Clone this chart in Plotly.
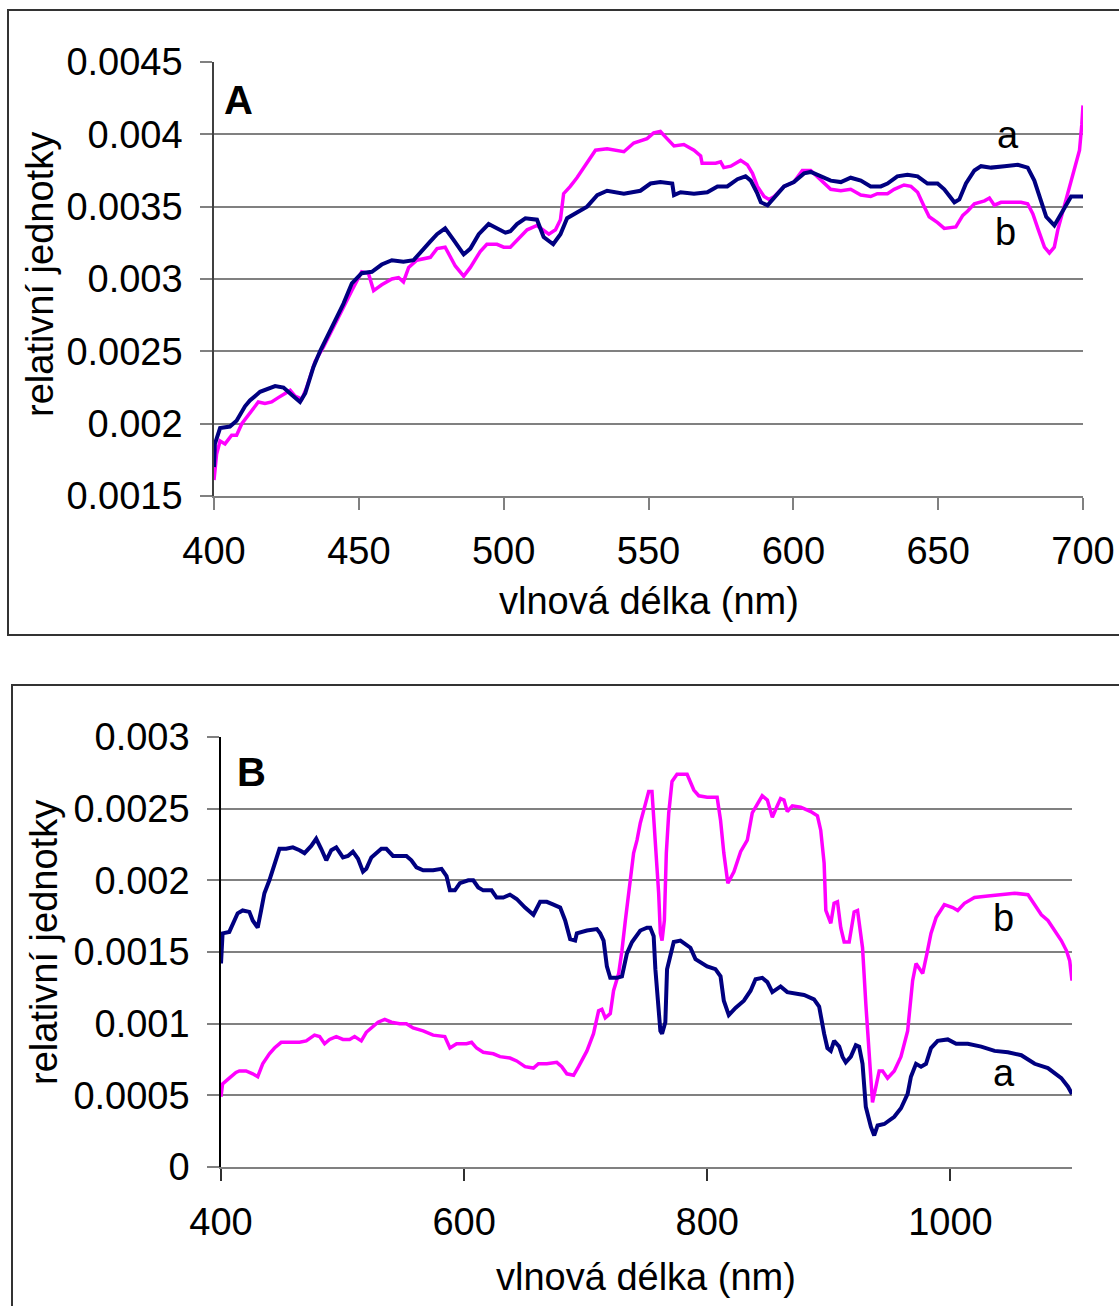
import plotly.graph_objects as go

# ---------------- Panel A: 400-700 nm ----------------
A_a_nm = [
    400.0, 400.3, 402.1, 405.5, 407.8, 410.7, 412.4, 415.9, 421.1, 424.0,
    426.8, 429.7, 431.5, 434.3, 436.6, 439.5, 442.4, 444.7, 447.6, 451.0,
    454.5, 457.9, 461.4, 465.4, 468.9, 471.8, 474.7, 477.0, 479.8, 482.7,
    486.2, 488.5, 491.4, 494.8, 497.7, 500.6, 502.3, 504.6, 507.5, 511.5,
    513.8, 517.1, 519.6, 521.9, 525.3, 528.8, 532.3, 535.7, 541.5, 547.2,
    550.7, 554.1, 558.2, 558.8, 561.1, 565.7, 570.3, 573.8, 577.2, 580.7,
    583.5, 585.3, 587.6, 588.8, 591.1, 593.4, 596.8, 600.2, 603.7, 606.0,
    609.5, 612.9, 616.4, 619.8, 623.3, 626.7, 630.2, 632.5, 635.9, 639.4,
    642.9, 646.3, 649.8, 652.1, 655.6, 657.3, 659.6, 662.5, 664.8, 668.3,
    672.9, 677.5, 680.9, 683.2, 685.5, 687.3, 690.1, 691.9, 693.6, 695.9,
    700.0,
]
A_a_val = [
    0.00170, 0.00186, 0.00197, 0.00198, 0.00202, 0.00212, 0.00216, 0.00222, 0.00226, 0.00225,
    0.00220, 0.00215, 0.00221, 0.00239, 0.00250, 0.00262, 0.00275, 0.00283, 0.00297, 0.00304,
    0.00305, 0.00310, 0.00313, 0.00312, 0.00313, 0.00320, 0.00326, 0.00331, 0.00335, 0.00327,
    0.00317, 0.00321, 0.00331, 0.00338, 0.00335, 0.00332, 0.00333, 0.00338, 0.00342, 0.00341,
    0.00329, 0.00324, 0.00331, 0.00342, 0.00346, 0.00350, 0.00358, 0.00361, 0.00359, 0.00361,
    0.00366, 0.00367, 0.00366, 0.00358, 0.00360, 0.00359, 0.00360, 0.00364, 0.00364, 0.00369,
    0.00371, 0.00368, 0.00359, 0.00353, 0.00351, 0.00356, 0.00364, 0.00367, 0.00373, 0.00374,
    0.00371, 0.00368, 0.00367, 0.00370, 0.00368, 0.00364, 0.00364, 0.00366, 0.00371, 0.00372,
    0.00371, 0.00366, 0.00366, 0.00362, 0.00353, 0.00355, 0.00366, 0.00375, 0.00378, 0.00377,
    0.00378, 0.00379, 0.00377, 0.00368, 0.00354, 0.00343, 0.00337, 0.00343, 0.00350, 0.00357,
    0.00357,
]

A_b_nm = [
    400.0, 400.9, 402.1, 403.8, 406.1, 407.8, 409.6, 412.4, 415.3, 417.6,
    419.9, 422.2, 424.5, 426.3, 428.0, 430.3, 432.0, 434.9, 437.8, 440.7,
    444.1, 447.6, 451.0, 453.3, 455.1, 457.9, 461.4, 463.7, 465.4, 467.2,
    470.0, 474.7, 477.0, 479.8, 483.3, 486.2, 488.5, 491.9, 494.2, 497.7,
    500.0, 502.3, 504.6, 508.1, 511.5, 513.8, 515.6, 517.9, 519.6, 520.7,
    523.0, 525.3, 528.8, 531.7, 535.7, 539.2, 541.5, 544.9, 549.5, 551.8,
    554.1, 556.4, 558.8, 562.2, 565.7, 568.0, 568.5, 573.2, 574.9, 576.0,
    578.4, 581.8, 584.1, 585.9, 587.6, 589.9, 591.6, 593.4, 596.8, 600.2,
    603.1, 606.0, 609.5, 612.9, 616.4, 619.8, 623.3, 626.7, 629.0, 632.5,
    634.8, 638.2, 640.6, 642.9, 645.2, 646.9, 649.8, 652.1, 656.1, 658.5,
    660.2, 662.5, 666.0, 667.7, 669.4, 671.7, 675.2, 678.6, 680.9, 682.7,
    684.4, 686.7, 688.4, 690.1, 691.3, 692.5, 694.8, 697.1, 698.8, 699.6,
    700.0,
]
A_b_val = [
    0.00161, 0.00179, 0.00188, 0.00186, 0.00192, 0.00192, 0.00200, 0.00207, 0.00215, 0.00214,
    0.00215, 0.00218, 0.00221, 0.00223, 0.00219, 0.00217, 0.00225, 0.00243, 0.00253, 0.00265,
    0.00278, 0.00292, 0.00305, 0.00304, 0.00292, 0.00296, 0.00300, 0.00301, 0.00298, 0.00308,
    0.00313, 0.00315, 0.00321, 0.00322, 0.00309, 0.00302, 0.00308, 0.00319, 0.00324, 0.00324,
    0.00322, 0.00322, 0.00327, 0.00334, 0.00337, 0.00334, 0.00331, 0.00334, 0.00341, 0.00359,
    0.00364, 0.00370, 0.00380, 0.00389, 0.00390, 0.00389, 0.00388, 0.00394, 0.00397, 0.00401,
    0.00402, 0.00397, 0.00392, 0.00393, 0.00389, 0.00385, 0.00380, 0.00380, 0.00381, 0.00377,
    0.00378, 0.00382, 0.00379, 0.00373, 0.00364, 0.00357, 0.00355, 0.00357, 0.00364, 0.00367,
    0.00375, 0.00375, 0.00368, 0.00362, 0.00361, 0.00362, 0.00358, 0.00357, 0.00359, 0.00359,
    0.00362, 0.00365, 0.00364, 0.00360, 0.00350, 0.00343, 0.00339, 0.00335, 0.00336, 0.00344,
    0.00347, 0.00352, 0.00354, 0.00356, 0.00351, 0.00353, 0.00353, 0.00353, 0.00352, 0.00345,
    0.00335, 0.00322, 0.00318, 0.00322, 0.00334, 0.00343, 0.00359, 0.00377, 0.00389, 0.00407,
    0.00420,
]

A_ytick_vals = [0.0015, 0.002, 0.0025, 0.003, 0.0035, 0.004, 0.0045]
A_ytick_text = ["0.0015", "0.002", "0.0025", "0.003", "0.0035", "0.004", "0.0045"]
A_xtick_vals = [400, 450, 500, 550, 600, 650, 700]

# ---------------- Panel B: 400-1100 nm ----------------
B_a_nm = [
    400.0, 401.3, 406.8, 409.6, 413.7, 417.8, 423.3, 426.1, 430.2, 433.0,
    435.7, 439.8, 444.0, 448.1, 453.6, 459.1, 464.6, 468.7, 474.2, 478.3,
    482.4, 486.6, 490.7, 494.8, 500.3, 504.4, 508.5, 512.7, 516.8, 519.5,
    523.7, 527.8, 531.9, 536.0, 541.5, 547.0, 552.5, 556.6, 560.8, 566.3,
    574.5, 581.4, 585.5, 588.3, 592.4, 596.5, 603.4, 607.5, 611.6, 615.7,
    622.6, 626.7, 632.2, 637.7, 643.2, 650.1, 657.0, 662.5, 668.0, 673.5,
    679.0, 683.1, 687.2, 691.3, 692.7, 701.0, 709.2, 711.9, 714.7, 717.4,
    720.2, 725.7, 729.8, 733.9, 738.1, 744.9, 750.4, 753.1, 755.9, 757.3,
    760.0, 761.4, 762.8, 765.5, 766.9, 769.6, 772.4, 777.9, 786.1, 790.3,
    794.4, 799.9, 806.7, 810.9, 813.6, 817.7, 823.2, 830.1, 835.6, 839.7,
    845.2, 849.4, 853.5, 860.3, 865.8, 871.3, 879.6, 887.8, 892.0, 896.1,
    898.8, 901.6, 904.3, 908.5, 911.2, 913.9, 918.1, 922.2, 924.9, 927.7,
    930.4, 934.6, 937.3, 940.1, 945.6, 953.8, 959.3, 964.8, 967.5, 971.7,
    975.8, 979.9, 984.0, 989.5, 997.8, 1004.7, 1014.3, 1025.3, 1036.3, 1047.3,
    1058.3, 1069.3, 1080.2, 1091.2, 1096.7, 1100.0,
]
B_a_val = [
    0.00142, 0.00163, 0.00164, 0.00169, 0.00177, 0.00179, 0.00178, 0.00172, 0.00167, 0.00179,
    0.00191, 0.00200, 0.00212, 0.00222, 0.00222, 0.00223, 0.00221, 0.00219, 0.00224, 0.00229,
    0.00222, 0.00214, 0.00221, 0.00223, 0.00216, 0.00217, 0.00220, 0.00215, 0.00206, 0.00208,
    0.00216, 0.00219, 0.00222, 0.00222, 0.00217, 0.00217, 0.00217, 0.00214, 0.00209, 0.00207,
    0.00207, 0.00208, 0.00203, 0.00193, 0.00193, 0.00198, 0.00200, 0.00200, 0.00195, 0.00193,
    0.00193, 0.00188, 0.00188, 0.00190, 0.00187, 0.00181, 0.00176, 0.00185, 0.00185, 0.00183,
    0.00181, 0.00172, 0.00159, 0.00158, 0.00163, 0.00165, 0.00166, 0.00163, 0.00158, 0.00140,
    0.00132, 0.00132, 0.00133, 0.00149, 0.00157, 0.00165, 0.00167, 0.00167, 0.00161, 0.00138,
    0.00114, 0.00095, 0.00093, 0.00101, 0.00138, 0.00149, 0.00157, 0.00158, 0.00153, 0.00145,
    0.00143, 0.00140, 0.00138, 0.00133, 0.00116, 0.00106, 0.00111, 0.00116, 0.00123, 0.00131,
    0.00132, 0.00129, 0.00122, 0.00126, 0.00122, 0.00121, 0.00120, 0.00117, 0.00112, 0.00093,
    0.00083, 0.00081, 0.00088, 0.00084, 0.00077, 0.00073, 0.00077, 0.00085, 0.00084, 0.00072,
    0.00042, 0.00028, 0.00022, 0.00029, 0.00030, 0.00035, 0.00041, 0.00051, 0.00063, 0.00072,
    0.00070, 0.00072, 0.00083, 0.00088, 0.00089, 0.00086, 0.00086, 0.00084, 0.00081, 0.00080,
    0.00078, 0.00072, 0.00069, 0.00062, 0.00056, 0.00051,
]

B_b_nm = [
    400.0, 401.3, 406.8, 412.3, 415.1, 420.6, 426.1, 430.2, 434.3, 439.8,
    444.0, 449.5, 456.3, 464.6, 470.1, 476.9, 481.1, 485.2, 489.3, 494.8,
    500.3, 505.8, 509.9, 515.4, 519.5, 523.7, 529.2, 534.7, 540.2, 547.0,
    552.5, 558.0, 566.3, 574.5, 584.1, 588.3, 593.8, 602.0, 606.1, 610.2,
    615.7, 624.0, 629.5, 637.7, 643.2, 650.1, 657.0, 661.1, 668.0, 676.2,
    680.3, 684.5, 690.0, 694.1, 701.0, 706.4, 710.6, 713.3, 716.1, 720.2,
    722.9, 727.1, 729.8, 732.6, 735.3, 739.4, 742.2, 744.9, 749.0, 751.8,
    754.5, 757.3, 760.0, 761.4, 762.8, 764.7, 766.3, 768.3, 771.0, 775.1,
    783.4, 788.9, 793.0, 799.9, 808.1, 810.9, 813.6, 816.9, 821.9, 827.4,
    832.9, 837.0, 841.1, 845.2, 849.4, 853.5, 857.6, 860.3, 863.1, 865.8,
    870.0, 876.8, 885.1, 890.6, 893.3, 896.1, 897.5, 901.6, 904.3, 907.1,
    909.8, 912.6, 916.7, 920.8, 923.6, 927.7, 930.4, 933.2, 935.9, 938.7,
    941.4, 944.2, 948.3, 953.8, 959.3, 964.8, 968.9, 971.7, 977.2, 980.7,
    984.0, 988.2, 995.0, 1001.9, 1006.0, 1011.5, 1019.8, 1030.8, 1041.8, 1052.8,
    1063.8, 1069.3, 1074.8, 1080.2, 1085.7, 1091.2, 1095.4, 1098.1, 1100.0,
]
B_b_val = [
    0.00049, 0.00058, 0.00062, 0.00066, 0.00067, 0.00067, 0.00065, 0.00063, 0.00072, 0.00079,
    0.00083, 0.00087, 0.00087, 0.00087, 0.00088, 0.00092, 0.00091, 0.00086, 0.00089, 0.00091,
    0.00089, 0.00089, 0.00091, 0.00088, 0.00094, 0.00097, 0.00101, 0.00103, 0.00101, 0.00100,
    0.00100, 0.00097, 0.00095, 0.00092, 0.00091, 0.00083, 0.00086, 0.00086, 0.00087, 0.00083,
    0.00080, 0.00079, 0.00077, 0.00076, 0.00074, 0.00070, 0.00069, 0.00072, 0.00072, 0.00073,
    0.00070, 0.00065, 0.00064, 0.00070, 0.00081, 0.00093, 0.00109, 0.00110, 0.00104, 0.00107,
    0.00123, 0.00135, 0.00151, 0.00172, 0.00191, 0.00219, 0.00228, 0.00240, 0.00253, 0.00262,
    0.00262, 0.00230, 0.00191, 0.00163, 0.00158, 0.00172, 0.00219, 0.00247, 0.00269, 0.00274,
    0.00274, 0.00263, 0.00259, 0.00258, 0.00258, 0.00242, 0.00219, 0.00198, 0.00206, 0.00220,
    0.00228, 0.00247, 0.00253, 0.00259, 0.00256, 0.00244, 0.00252, 0.00257, 0.00256, 0.00248,
    0.00252, 0.00251, 0.00248, 0.00245, 0.00235, 0.00212, 0.00179, 0.00170, 0.00184, 0.00185,
    0.00167, 0.00157, 0.00157, 0.00178, 0.00179, 0.00153, 0.00114, 0.00079, 0.00045, 0.00056,
    0.00067, 0.00067, 0.00062, 0.00067, 0.00077, 0.00095, 0.00130, 0.00142, 0.00135, 0.00149,
    0.00163, 0.00174, 0.00183, 0.00181, 0.00179, 0.00184, 0.00188, 0.00189, 0.00190, 0.00191,
    0.00190, 0.00183, 0.00176, 0.00172, 0.00165, 0.00158, 0.00151, 0.00144, 0.00130,
]

B_ytick_vals = [0, 0.0005, 0.001, 0.0015, 0.002, 0.0025, 0.003]
B_ytick_text = ["0", "0.0005", "0.001", "0.0015", "0.002", "0.0025", "0.003"]
B_xtick_vals = [400, 600, 800, 1000]

# ---------------- styling ----------------
W, H = 1119, 1306
FONT = "Liberation Sans, Arial, sans-serif"
NAVY = "#000080"
MAGENTA = "#FF00FF"
GRID = "#808080"
TICK_SIZE = 38


def px(x):
    return x / W


def py(y):
    return 1 - y / H


fig = go.Figure()

fig.add_trace(go.Scatter(x=A_b_nm, y=A_b_val, mode="lines",
                         line=dict(color=MAGENTA, width=3.5), xaxis="x", yaxis="y"))
fig.add_trace(go.Scatter(x=A_a_nm, y=A_a_val, mode="lines",
                         line=dict(color=NAVY, width=4), xaxis="x", yaxis="y"))
fig.add_trace(go.Scatter(x=B_b_nm, y=B_b_val, mode="lines",
                         line=dict(color=MAGENTA, width=3.5), xaxis="x2", yaxis="y2"))
fig.add_trace(go.Scatter(x=B_a_nm, y=B_a_val, mode="lines",
                         line=dict(color=NAVY, width=4), xaxis="x2", yaxis="y2"))

tickfont = dict(family=FONT, size=TICK_SIZE, color="black")

common_x = dict(showgrid=False, zeroline=False, showline=True, linewidth=1.5,
                ticks="outside", ticklen=12, tickwidth=1.5, tickfont=tickfont,
                ticklabelstandoff=9, automargin=False)
common_y = dict(showgrid=True, gridcolor=GRID, gridwidth=1.5, zeroline=False,
                showline=True, linewidth=1.5, ticks="outside", ticklen=12,
                tickwidth=1.5, tickcolor=GRID, tickfont=tickfont,
                ticklabelstandoff=10, automargin=False)

fig.update_layout(
    width=W, height=H,
    margin=dict(l=0, r=0, t=0, b=0, pad=0, autoexpand=False),
    paper_bgcolor="white", plot_bgcolor="white",
    showlegend=False,
    xaxis=dict(domain=[px(214), px(1083)], range=[400, 700], tickvals=A_xtick_vals,
               linecolor=GRID, tickcolor=GRID, anchor="y", **common_x),
    yaxis=dict(domain=[py(496), py(62)], range=[0.0015 - 1e-9, 0.0045 + 1e-9],
               tickvals=A_ytick_vals, ticktext=A_ytick_text, linecolor="#404040",
               anchor="x", **common_y),
    xaxis2=dict(domain=[px(221), px(1072)], range=[400, 1100], tickvals=B_xtick_vals,
                linecolor=GRID, tickcolor="#303030", anchor="y2", **common_x),
    yaxis2=dict(domain=[py(1167), py(737)], range=[0 - 1e-9, 0.003 + 1e-9],
                tickvals=B_ytick_vals, ticktext=B_ytick_text, linecolor="black",
                anchor="x2", **common_y),
)

# frames around each panel
fig.add_shape(type="rect", xref="paper", yref="paper",
              x0=px(8), x1=px(1135), y0=py(635), y1=py(10),
              line=dict(color="#333333", width=2), fillcolor="rgba(0,0,0,0)", layer="below")
fig.add_shape(type="rect", xref="paper", yref="paper",
              x0=px(12), x1=px(1135), y0=py(1320), y1=py(685),
              line=dict(color="#333333", width=2), fillcolor="rgba(0,0,0,0)", layer="below")

label_font = dict(family=FONT, size=TICK_SIZE, color="black")
panel_font = dict(family=FONT, size=40, color="black", weight="bold")

annotations = [
    # axis titles
    dict(text="vlnová délka (nm)", x=px(649), y=py(601), xref="paper", yref="paper",
         showarrow=False, font=label_font, xanchor="center", yanchor="middle"),
    dict(text="relativní jednotky", x=px(40), y=py(275), xref="paper", yref="paper",
         showarrow=False, font=label_font, textangle=-90, xanchor="center", yanchor="middle"),
    dict(text="vlnová délka (nm)", x=px(646), y=py(1277), xref="paper", yref="paper",
         showarrow=False, font=label_font, xanchor="center", yanchor="middle"),
    dict(text="relativní jednotky", x=px(44), y=py(943), xref="paper", yref="paper",
         showarrow=False, font=label_font, textangle=-90, xanchor="center", yanchor="middle"),
    # panel letters
    dict(text="A", x=408.3, y=0.004237, xref="x", yref="y", showarrow=False,
         font=panel_font, xanchor="center", yanchor="middle"),
    dict(text="B", x=425, y=0.002756, xref="x2", yref="y2", showarrow=False,
         font=panel_font, xanchor="center", yanchor="middle"),
    # curve labels
    dict(text="a", x=674, y=0.003995, xref="x", yref="y", showarrow=False,
         font=label_font, xanchor="center", yanchor="middle"),
    dict(text="b", x=673.4, y=0.003325, xref="x", yref="y", showarrow=False,
         font=label_font, xanchor="center", yanchor="middle"),
    dict(text="b", x=1043.4, y=0.001737, xref="x2", yref="y2", showarrow=False,
         font=label_font, xanchor="center", yanchor="middle"),
    dict(text="a", x=1044.3, y=0.000656, xref="x2", yref="y2", showarrow=False,
         font=label_font, xanchor="center", yanchor="middle"),
]
fig.update_layout(annotations=annotations)

fig.write_html("out.html")
